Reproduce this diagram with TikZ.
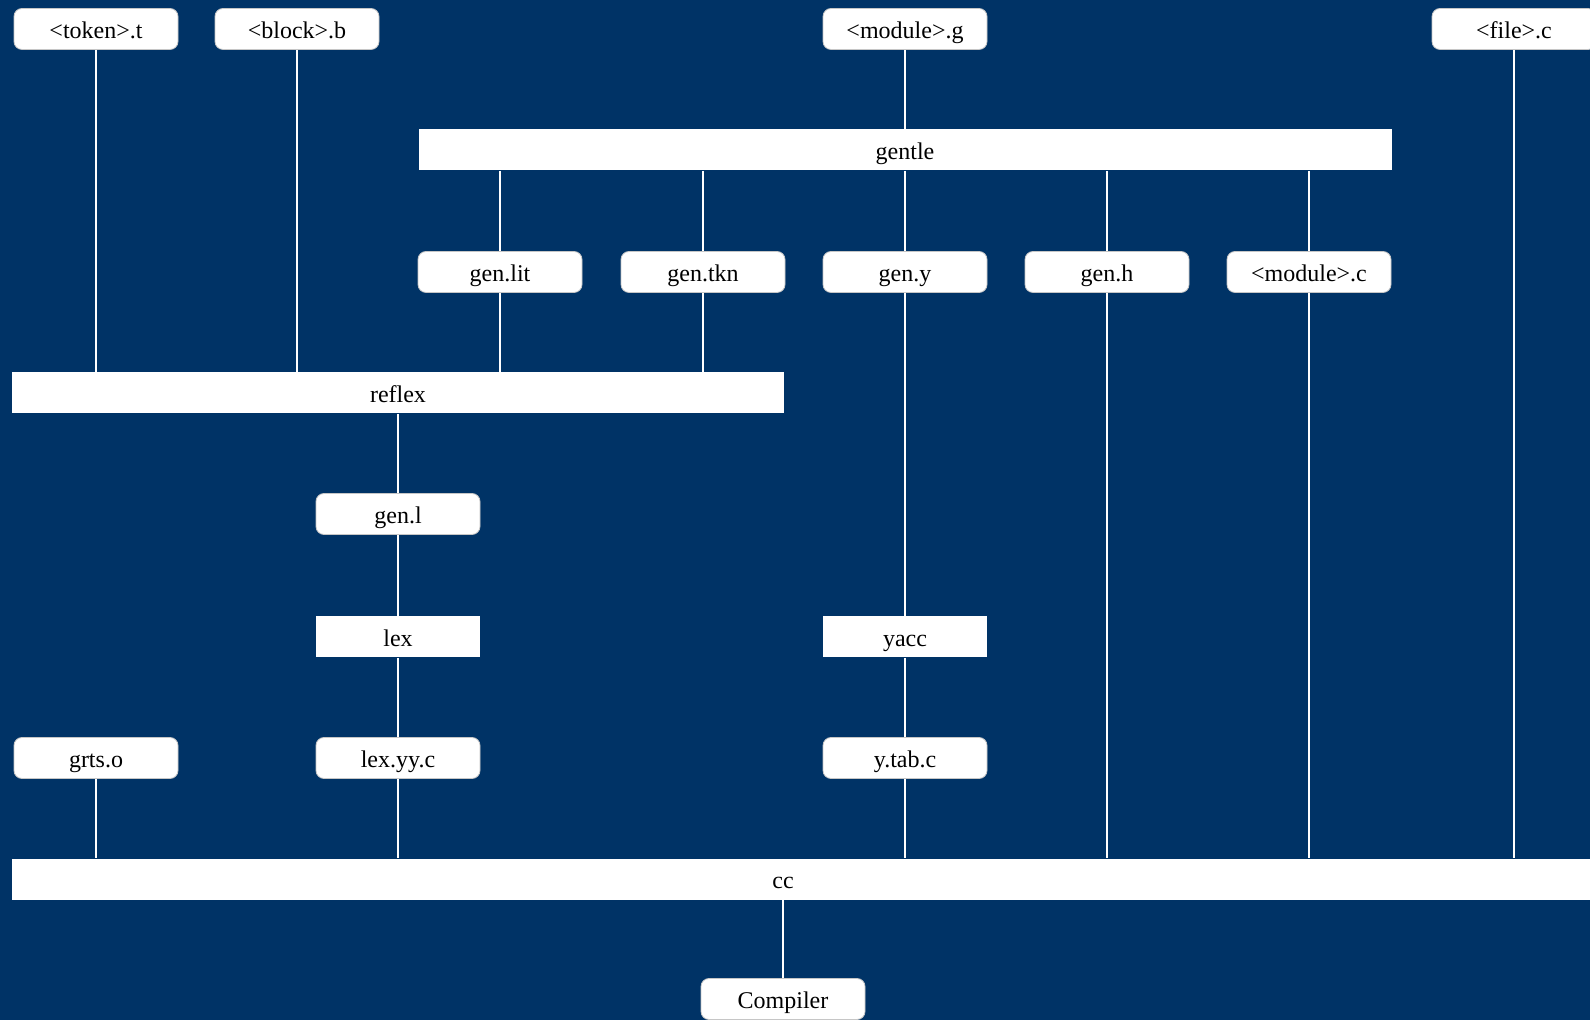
\documentclass[tikz,border=0pt]{standalone}
\usepackage{fontspec}
\setmainfont{Liberation Serif}
\usepackage{tikz}
\definecolor{navy}{RGB}{0,51,102}

\begin{document}
\begin{tikzpicture}[x=0.5pt,y=-0.5pt,font=\fontsize{12}{14}\selectfont]
              \tikzstyle{file} = [draw=gray!45, fill=white, rounded corners=4pt, minimum width=82pt, minimum height=20.5pt, inner sep=0pt, text height=11pt, text depth=1.5pt];
              \tikzstyle{tool} = [fill=white, minimum width=82pt, minimum height=20.5pt, inner sep=0pt, text height=11pt, text depth=1.5pt];
              \tikzstyle{wire} = [draw=white, line width=0.8pt];
              \useasboundingbox (0,0) rectangle (1590,1020);
              \fill[navy] (0,0) rectangle (1590,1020);
              % sources
              \node[file] (token) at (96,29) {<token>.t};
              \node[file] (block) at (297,29) {<block>.b};
              \node[file] (moduleg) at (905,29) {<module>.g};
              \node[file] (filec) at (1514,29) {<file>.c};
              \node[tool, minimum width=486.5pt] (gentle) at (905,150) {gentle};
              \foreach \n/\x/\t in {genlit/500/gen.lit, gentkn/703/gen.tkn, geny/905/gen.y, genh/1107/gen.h, modulec/1309/{<module>.c}}{
                \node[file] (\n) at (\x,272) {\t};
              }
              \node[tool, minimum width=386pt] (reflex) at (398,393) {reflex};
              \node[file] (genl) at (398,514) {gen.l};
              \node[tool] (lex) at (398,637) {lex};
              \node[tool] (yacc) at (905,637) {yacc};
              \node[file] (grts) at (96,758) {grts.o};
              \node[file] (lexyy) at (398,758) {lex.yy.c};
              \node[file] (ytab) at (905,758) {y.tab.c};
              \node[tool, minimum width=795pt, label={[xshift=-12pt, text height=11pt, text depth=1.5pt]center:cc}] (cc) at (807,879) {};
              \node[file] (compiler) at (783,999) {Compiler};
              % connections
              \path[wire]
              \foreach \a/\b in {token/reflex, block/reflex, genlit/reflex, gentkn/reflex, moduleg/gentle,
                                 geny/yacc, genl/lex, lex/lexyy, yacc/ytab,
                                 grts/cc, lexyy/cc, ytab/cc, genh/cc, modulec/cc, filec/cc}{
                (\a.south) edge (\a.south |- \b.north)
              }
              \foreach \a/\b in {gentle/genlit, gentle/gentkn, gentle/geny, gentle/genh, gentle/modulec,
                                 reflex/genl, cc/compiler}{
                (\b.north |- \a.south) edge (\b.north)
              };
            \end{tikzpicture}
\end{document}
